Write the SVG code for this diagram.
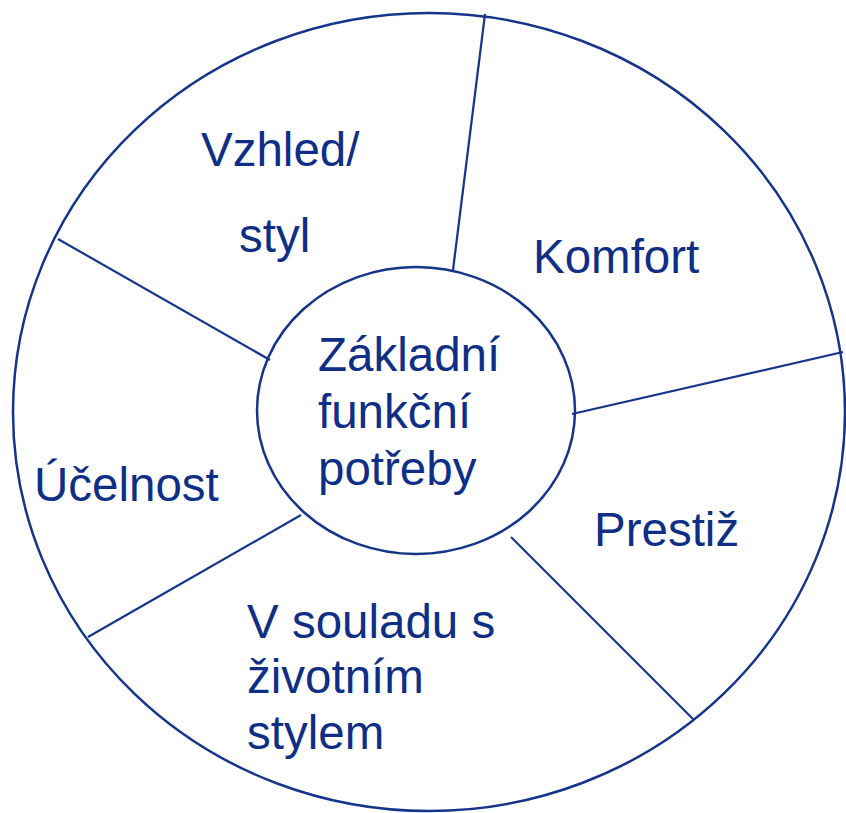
<svg xmlns="http://www.w3.org/2000/svg" width="846" height="813" viewBox="0 0 846 813">
  <style>
    .ring { fill: none; stroke: #16358a; stroke-width: 2.5; }
    .spoke { stroke: #16358a; stroke-width: 2.2; fill: none; }
    .lbl { font-family: "Liberation Sans", Arial, sans-serif; font-size: 47.5px; fill: #0f2f86; }
  </style>
  <rect width="846" height="813" fill="#ffffff"/>

  <!-- outer wheel -->
  <g id="wheel">
    <ellipse class="ring" cx="429" cy="412" rx="416" ry="399"/>
  </g>

  <!-- dividers between the segments -->
  <g id="connectors">
    <line class="spoke" x1="485" y1="14" x2="453" y2="270"/>
    <line class="spoke" x1="58" y1="239" x2="270" y2="360"/>
    <line class="spoke" x1="843" y1="352" x2="572" y2="414"/>
    <line class="spoke" x1="511" y1="537" x2="693" y2="719"/>
    <line class="spoke" x1="301" y1="515" x2="88" y2="637"/>
  </g>

  <!-- hub -->
  <g id="hub">
    <ellipse class="ring" cx="416" cy="410.5" rx="159" ry="143.5" fill="#ffffff"/>
    <text class="lbl" x="318" y="371">Základní</text>
    <text class="lbl" x="318" y="428">funkční</text>
    <text class="lbl" x="318" y="485">potřeby</text>
  </g>

  <g id="vzhled">
    <text class="lbl" x="201" y="166">Vzhled/</text>
    <text class="lbl" x="239" y="252">styl</text>
  </g>

  <g id="komfort">
    <text class="lbl" x="533" y="273">Komfort</text>
  </g>

  <g id="prestiz">
    <text class="lbl" x="594" y="546">Prestiž</text>
  </g>

  <g id="soulad">
    <text class="lbl" x="247" y="638">V souladu s</text>
    <text class="lbl" x="247" y="693">životním</text>
    <text class="lbl" x="247" y="749">stylem</text>
  </g>

  <g id="ucelnost">
    <text class="lbl" x="34" y="501">Účelnost</text>
  </g>
</svg>
